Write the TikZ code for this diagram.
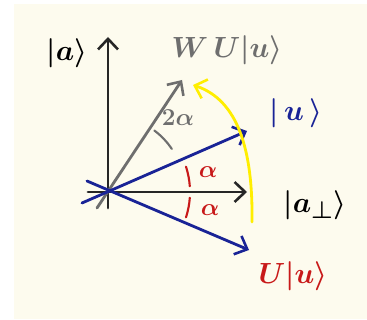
\documentclass[tikz,border=0pt]{standalone}
\usetikzlibrary{arrows.meta}
\definecolor{paper}{RGB}{253,251,238}
\definecolor{inkblue}{RGB}{25,35,150}
\definecolor{inkred}{RGB}{200,25,25}
\definecolor{inkgray}{RGB}{110,110,110}
\definecolor{inkyellow}{RGB}{255,238,0}
\begin{document}
\begin{tikzpicture}[x=0.03cm,y=-0.03cm,
  pen/.style={line width=2.4pt,line cap=round,
    -{Straight Barb[length=9pt,width=17pt,line width=2.2pt]}},
  anglemark/.style={line width=1.8pt,line cap=round},
  lbl/.style={font=\fontsize{31}{34}\selectfont\boldmath,inner sep=0pt},
  small/.style={font=\fontsize{20}{22}\selectfont\boldmath,inner sep=0pt}]
% paper
\useasboundingbox (0,0) rectangle (367,320);
\fill[paper] (14,4) rectangle (367,319);

% --- points (pixel grid, y down) ---
\coordinate (O) at (108,192);
\coordinate (aTail) at (108,208);  \coordinate (aTip) at (108,37);
\coordinate (pTail) at (88,192);   \coordinate (pTip) at (247,192);
\coordinate (wTail) at (97,208);   \coordinate (wTip) at (182,80);
\coordinate (uTail) at (82,203);   \coordinate (uTip) at (247,131);
\coordinate (vTail) at (87,181);   \coordinate (vTip) at (249,250);
\coordinate (yStart) at (252,222); \coordinate (yEnd) at (193,85);

% axes
\draw[pen,black!85] (aTail) -- (aTip);
\draw[pen,black!85] (pTail) -- (pTip);
% reflected state
\draw[pen,inkgray] (wTail) -- (wTip);
% |u> and U|u>
\draw[pen,inkblue] (uTail) -- (uTip);
\draw[pen,inkblue] (vTail) -- (vTip);
% rotation
\draw[pen,inkyellow] (yStart) .. controls (253,150) and (238,100) .. (yEnd);

% angle marks
\draw[anglemark,inkred] (O) ++(-4:82) arc[start angle=-4,end angle=-18,radius=82];
\draw[anglemark,inkred] (O) ++(4:82) arc[start angle=4,end angle=18,radius=82];
\draw[anglemark,inkgray] (O) ++(-34:77) arc[start angle=-34,end angle=-53,radius=77];

% labels
\node[lbl,black] (aLbl) at (67,53) {$|a\rangle$};
\node[lbl,inkgray] (wLbl) at (227,50) {$W\,U|u\rangle$};
\node[lbl,inkblue] (uLbl) at (296,113) {$|\,u\,\rangle$};
\node[lbl,black] (pLbl) at (315,205) {$|a_\perp\rangle$};
\node[lbl,inkred] (vLbl) at (293,276) {$U|u\rangle$};
\node[small,inkgray] (twoLbl) at (178,118) {$2\alpha$};
\node[small,inkred] (upLbl) at (208,172) {$\alpha$};
\node[small,inkred] (dnLbl) at (210,210) {$\alpha$};
\end{tikzpicture}
\end{document}
